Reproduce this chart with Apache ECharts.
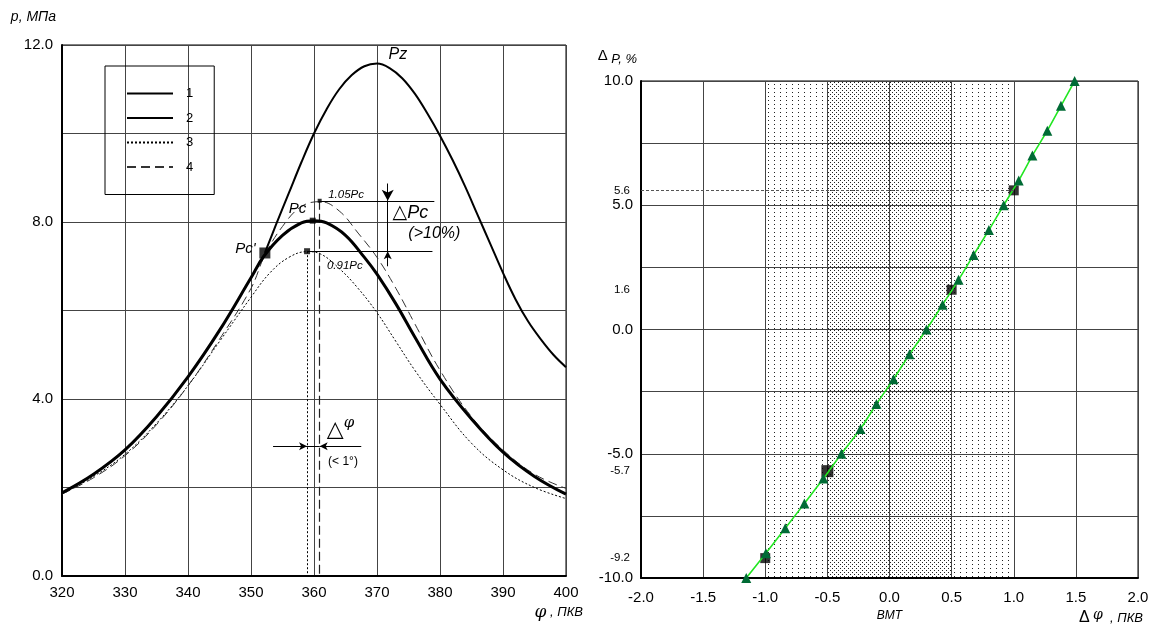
<!DOCTYPE html>
<html>
<head>
<meta charset="utf-8">
<script src="https://cdn.jsdelivr.net/npm/echarts@6/dist/echarts.min.js"></script>
<style>
html,body{margin:0;padding:0;background:#fff;}
#chart{width:1158px;height:626px;}
</style>
</head>
<body>
<div id="chart"></div>
<script>
// left chart: cylinder pressure vs crank angle
const phi1 = [320,325,330,335,340,345,350,352,355,358,360,362,365,368,370,373,376,380,385,390,395,400];
const p1   = [1.88,2.3,2.85,3.6,4.5,5.55,6.74,7.22,7.7,7.98,8.03,7.98,7.7,7.2,6.82,6.15,5.4,4.45,3.55,2.8,2.25,1.85];
const phi2 = [352.2,354,356,358,360,362,364,366,368,370,372,374,376,378,380,382,384,386,388,390,392,394,396,398,400];
const p2   = [7.3,7.95,8.65,9.35,10.0,10.55,11.0,11.32,11.52,11.58,11.48,11.25,10.9,10.45,9.95,9.4,8.8,8.15,7.5,6.85,6.25,5.75,5.35,5.0,4.72];
const phi3 = [320,325,330,335,340,345,350,353,356,358.9,361,364,367,370,373,376,380,385,390,395,400];
const p3   = [1.85,2.25,2.75,3.45,4.3,5.3,6.3,6.85,7.2,7.33,7.28,6.95,6.5,5.95,5.3,4.65,3.88,3.0,2.4,2.0,1.75];
const phi4 = [320,325,330,335,340,345,350,352.2,355,358,361,364,367,370,373,376,380,385,390,395,400];
const p4   = [1.85,2.22,2.72,3.42,4.3,5.35,6.5,7.25,7.9,8.35,8.46,8.25,7.75,7.2,6.5,5.7,4.65,3.6,2.85,2.3,1.98];
// marked points: Pc', Pc, 1.05Pc, 0.91Pc
const keyPhi = [352.2, 359.8, 360.9, 358.9];
const keyP   = [7.3, 8.03, 8.48, 7.34];

// right chart: dP vs dphi
const dPhi = [-1.153,-0.995,-0.839,-0.685,-0.532,-0.387,-0.234,-0.105,0.032,0.161,0.298,0.427,0.556,0.677,0.80,0.919,1.04,1.15,1.27,1.38,1.49];
const dP   = [-10,-9,-8,-7,-6,-5,-4,-3,-2,-1,0,1,2,3,4,5,6,7,8,9,10];
const sqPhi = [-1.0,-0.5,0.5,1.0];
const sqP   = [-9.2,-5.7,1.6,5.6];
const extraTicks = [5.6,1.6,-5.7,-9.2];
const sparseZones = [[-1.0,-0.5],[0.5,1.0]];
const denseZone = [-0.5,0.5];

const FONT = 'Liberation Sans, Arial, sans-serif';
const zip = (a, b) => a.map((v, i) => [v, b[i]]);

function dots(w, h, pts) {
  const c = document.createElement('canvas');
  c.width = w; c.height = h;
  const g = c.getContext('2d');
  g.fillStyle = '#222';
  pts.forEach(p => g.fillRect(p[0], p[1], 1, 1));
  return c;
}
const sparseFill = {image: dots(6, 4, [[0,0]]), repeat: 'repeat'};
const denseFill = {image: dots(4, 4, [[0,0],[2,2]]), repeat: 'repeat'};

const chart = echarts.init(document.getElementById('chart'));

const gridLine = {show: true, lineStyle: {color: '#444', width: 1}};
const axisLine = {show: true, onZero: false, lineStyle: {color: '#000', width: 2}};
const lbl = {color: '#000', fontFamily: FONT, fontSize: 15};

function note(coord, text, label) {
  return {
    coord: coord, symbol: 'rect', symbolSize: 1,
    itemStyle: {color: 'rgba(0,0,0,0)'},
    label: Object.assign({show: true, position: 'inside', formatter: text, color: '#000',
      fontFamily: FONT, fontStyle: 'italic', fontSize: 15}, label || {})
  };
}

const option = {
  animation: false,
  backgroundColor: '#fff',
  grid: [
    {left: 62, right: 592, top: 45, bottom: 50, show: true, borderColor: '#000', borderWidth: 1},
    {left: 641, right: 20, top: 81, bottom: 48, show: true, borderColor: '#000', borderWidth: 1}
  ],
  legend: {
    data: ['1','2','3','4'],
    left: 105, top: 66, orient: 'vertical',
    padding: [21, 21, 21, 21],
    itemWidth: 46, itemHeight: 14, itemGap: 11.5,
    borderColor: '#000', borderWidth: 1,
    itemStyle: {opacity: 0},
    textStyle: {color: '#000', fontFamily: FONT, fontSize: 13, padding: [0, 0, 0, 8]},
    selectedMode: false
  },
  xAxis: [
    {type: 'value', gridIndex: 0, min: 320, max: 400, interval: 10,
      axisLine: axisLine, axisTick: {show: false}, splitLine: gridLine,
      axisLabel: Object.assign({margin: 9}, lbl),
      name: '{f|φ}{t| , ПКВ}', nameLocation: 'end', nameGap: 17,
      nameTextStyle: {align: 'right', verticalAlign: 'top', padding: [28, 0, 0, 0],
        rich: {f: {fontSize: 17, fontStyle: 'italic', fontFamily: 'DejaVu Serif'},
               t: {fontSize: 13, fontStyle: 'italic', fontFamily: FONT}}}},
    {type: 'value', gridIndex: 1, min: -2, max: 2, interval: 0.5,
      axisLine: axisLine, axisTick: {show: false}, splitLine: gridLine,
      axisLabel: Object.assign({margin: 11, lineHeight: 17,
        formatter: v => v === 0 ? '0.0\n{b|ВМТ}' : v.toFixed(1),
        rich: {b: {fontSize: 12, fontStyle: 'italic', fontFamily: FONT, lineHeight: 20}}}, lbl),
      name: '{d|Δ} {f|φ}{t|  , ПКВ}', nameLocation: 'end', nameGap: 5,
      nameTextStyle: {align: 'right', verticalAlign: 'top', padding: [30, 0, 0, 0],
        rich: {d: {fontSize: 16, fontFamily: FONT},
               f: {fontSize: 14, fontStyle: 'italic', fontFamily: 'DejaVu Serif', padding: [0, 0, 6, 0]},
               t: {fontSize: 13, fontStyle: 'italic', fontFamily: FONT}}}}
  ],
  yAxis: [
    {type: 'value', gridIndex: 0, min: 0, max: 12, interval: 2,
      axisLine: axisLine, axisTick: {show: false}, splitLine: gridLine,
      axisLabel: Object.assign({margin: 9, formatter: v => v % 4 === 0 ? v.toFixed(1) : ''}, lbl),
      name: 'p, МПа', nameLocation: 'end', nameGap: 28,
      nameTextStyle: {align: 'right', verticalAlign: 'middle', padding: [0, 6, 0, 0],
        fontStyle: 'italic', fontSize: 14, fontFamily: FONT, color: '#000'}},
    {type: 'value', gridIndex: 1, min: -10, max: 10, interval: 2.5,
      axisLine: axisLine, axisTick: {show: false}, splitLine: gridLine,
      axisLabel: Object.assign({margin: 8, formatter: v => v % 5 === 0 ? v.toFixed(1) : ''}, lbl),
      name: '{d|Δ} {p|P, %}', nameLocation: 'end', nameGap: 25,
      nameTextStyle: {align: 'right', verticalAlign: 'middle', padding: [0, 4, 0, 0],
        rich: {d: {fontSize: 15, fontFamily: FONT, color: '#000'},
               p: {fontSize: 13, fontStyle: 'italic', fontFamily: FONT, color: '#000', padding: [6, 0, 0, 0]}}}},
    {type: 'value', gridIndex: 1, min: -10, max: 10, position: 'left',
      axisLine: {show: false}, axisTick: {show: false}, splitLine: {show: false},
      axisLabel: {margin: 11, color: '#000', fontFamily: FONT, fontSize: 11.5, customValues: extraTicks,
        formatter: v => v.toFixed(1)}}
  ],
  series: [
    {name: '1', type: 'line', xAxisIndex: 0, yAxisIndex: 0, data: zip(phi1, p1), smooth: 0.4,
      symbol: 'none', lineStyle: {color: '#000', width: 3}, itemStyle: {color: '#000'}, z: 5},
    {name: '2', type: 'line', xAxisIndex: 0, yAxisIndex: 0, data: zip(phi2, p2), smooth: 0.4,
      symbol: 'none', lineStyle: {color: '#000', width: 2}, itemStyle: {color: '#000'}, z: 4},
    {name: '3', type: 'line', xAxisIndex: 0, yAxisIndex: 0, data: zip(phi3, p3), smooth: 0.4,
      symbol: 'none', lineStyle: {color: '#000', width: 1, type: [2, 2]}, itemStyle: {color: '#000'}, z: 3},
    {name: '4', type: 'line', xAxisIndex: 0, yAxisIndex: 0, data: zip(phi4, p4), smooth: 0.4,
      symbol: 'none', lineStyle: {color: '#333', width: 1, type: [9, 5]}, itemStyle: {color: '#333'}, z: 3},
    {name: 'key', type: 'scatter', xAxisIndex: 0, yAxisIndex: 0, data: zip(keyPhi, keyP),
      symbol: 'rect', symbolSize: (v, p) => [11, 6, 4, 6][p.dataIndex],
      itemStyle: {color: '#000'}, z: 6, silent: true},
    {name: 'notes', type: 'line', xAxisIndex: 0, yAxisIndex: 0, data: [], silent: true, z: 2,
      markLine: {
        silent: true, symbol: 'none', symbolSize: 8, label: {show: false},
        lineStyle: {color: '#000', width: 1, type: 'solid'},
        data: [
          [{coord: [360.9, 8.48]}, {coord: [379.1, 8.48]}],
          [{coord: [358.9, 7.34]}, {coord: [378.8, 7.34]}],
          [{coord: [371.7, 8.87]}, {coord: [371.7, 8.48], symbol: 'arrow', symbolSize: [9, 11]}],
          [{coord: [371.7, 8.48]}, {coord: [371.7, 7.34]}],
          [{coord: [371.7, 7.0]}, {coord: [371.7, 7.34], symbol: 'arrow', symbolSize: [6, 8]}],
          [{coord: [358.9, 7.34], lineStyle: {type: [2, 2]}}, {coord: [358.9, 0]}],
          [{coord: [360.9, 8.48], lineStyle: {type: [9, 4], width: 1.2, color: '#222'}}, {coord: [360.9, 0]}],
          [{coord: [353.5, 2.93]}, {coord: [358.9, 2.93], symbol: 'arrow', symbolSize: [6, 8]}],
          [{coord: [358.9, 2.93]}, {coord: [360.9, 2.93]}],
          [{coord: [367.5, 2.93]}, {coord: [360.9, 2.93], symbol: 'arrow', symbolSize: [6, 8]}]
        ]
      },
      markPoint: {
        silent: true,
        data: [
          note([373.3, 11.78], 'Pz', {fontSize: 16}),
          note([357.4, 8.3], 'Pc'),
          note([349.1, 7.4], "Pc'"),
          note([365.1, 8.62], '1.05Pc', {fontSize: 11.5}),
          note([364.9, 7.01], '0.91Pc', {fontSize: 11.5}),
          note([375.3, 8.2], '{t|△}{i|Pc}', {
            rich: {t: {fontSize: 19, fontFamily: 'DejaVu Sans', color: '#000'},
                   i: {fontSize: 18, fontStyle: 'italic', fontFamily: FONT, color: '#000'}}}),
          note([379.1, 7.74], '(>10%)', {fontSize: 16}),
          note([364.2, 3.3], '{t|△}{s|φ}', {
            rich: {t: {fontSize: 22, fontFamily: 'DejaVu Sans', color: '#000'},
                   s: {fontSize: 15, fontStyle: 'italic', fontFamily: 'DejaVu Serif', color: '#000', padding: [0, 0, 14, 0]}}}),
          note([364.6, 2.58], '(< 1°)', {fontSize: 12, fontStyle: 'normal'})
        ]
      }
    },
    {name: 'zones', type: 'line', xAxisIndex: 1, yAxisIndex: 1, data: [], silent: true, z: 1,
      markArea: {
        silent: true,
        data: sparseZones.map(z => [{xAxis: z[0], itemStyle: {color: sparseFill}}, {xAxis: z[1]}])
          .concat([[{xAxis: denseZone[0], itemStyle: {color: denseFill}}, {xAxis: denseZone[1]}]])
      },
      markLine: {
        silent: true, symbol: 'none', label: {show: false},
        lineStyle: {color: '#555', width: 1, type: [3, 2]},
        data: [[{coord: [-2, sqP[3]]}, {coord: [sqPhi[3], sqP[3]]}]]
      }
    },
    {name: 'dP', type: 'line', xAxisIndex: 1, yAxisIndex: 1, data: zip(dPhi, dP), smooth: 0.3,
      symbol: 'triangle', symbolSize: 10, showAllSymbol: true,
      lineStyle: {color: '#22e622', width: 1.6}, itemStyle: {color: '#006b35'}, z: 4},
    {name: 'sq', type: 'scatter', xAxisIndex: 1, yAxisIndex: 1, data: zip(sqPhi, sqP),
      symbol: 'rect', symbolSize: (v, p) => p.dataIndex === 1 ? 12 : 10,
      itemStyle: {color: '#000'}, z: 3}
  ]
};
chart.setOption(option);
</script>
</body>
</html>
